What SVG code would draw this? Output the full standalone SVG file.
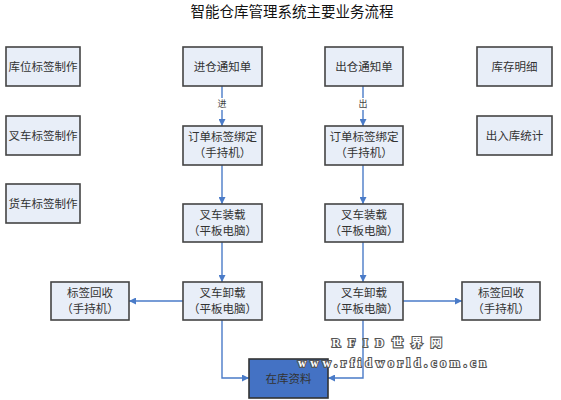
<svg xmlns="http://www.w3.org/2000/svg" width="561" height="400" viewBox="0 0 561 400">
<style>
.box rect{fill:#e8eef8;stroke:#444;stroke-width:1.6}
.dark rect{fill:#4472c4;stroke:#333;stroke-width:1.6}
text{font-family:"Noto Sans CJK SC","Noto Sans CJK JP",sans-serif;font-size:11.5px;fill:#333;text-anchor:middle}
.title{font-size:14.5px;fill:#111}
.lbl{font-size:9px;fill:#444}
.conn path{fill:none;stroke:#4a7bc8;stroke-width:1.4}
.wm{font-family:"Liberation Serif","Noto Sans CJK SC",serif;font-weight:bold;fill:#fff;stroke:#555;stroke-width:2.2;paint-order:stroke;text-anchor:start}
</style>
<defs>
<marker id="ah" viewBox="0 0 10 10" refX="10" refY="5" markerWidth="7" markerHeight="7" markerUnits="userSpaceOnUse" orient="auto">
<path d="M0,0 L10,5 L0,10 z" fill="#4a7bc8"/>
</marker>
</defs>
<rect width="561" height="400" fill="#fff"/>
<text class="title" x="292" y="17">智能仓库管理系统主要业务流程</text>

<g class="conn">
<path d="M222,86 V98"/>
<path d="M222,110 V126" marker-end="url(#ah)"/>
<path d="M363,86 V98"/>
<path d="M363,110 V126" marker-end="url(#ah)"/>
<path d="M222,165 V204" marker-end="url(#ah)"/>
<path d="M363,165 V204" marker-end="url(#ah)"/>
<path d="M222,242 V282" marker-end="url(#ah)"/>
<path d="M363,242 V282" marker-end="url(#ah)"/>
<path d="M183,301 H129" marker-end="url(#ah)"/>
<path d="M403,301 H462" marker-end="url(#ah)"/>
<path d="M222,320 V378 H249" marker-end="url(#ah)"/>
<path d="M363,320 V378 H328" marker-end="url(#ah)"/>
<text class="lbl" x="222" y="107">进</text>
<text class="lbl" x="363" y="107">出</text>
</g>

<g id="n1" class="box"><rect x="6" y="47" width="74" height="39"/><text x="43" y="71">库位标签制作</text></g>
<g id="n2" class="box"><rect x="6" y="116" width="74" height="39"/><text x="43" y="140">叉车标签制作</text></g>
<g id="n3" class="box"><rect x="6" y="184" width="74" height="39"/><text x="43" y="208">货车标签制作</text></g>
<g id="n4" class="box"><rect x="183" y="47" width="79" height="39"/><text x="222.5" y="71">进仓通知单</text></g>
<g id="n5" class="box"><rect x="325" y="47" width="78" height="39"/><text x="364" y="71">出仓通知单</text></g>
<g id="n6" class="box"><rect x="477" y="47" width="75" height="39"/><text x="514.5" y="71">库存明细</text></g>
<g id="n7" class="box"><rect x="477" y="116" width="75" height="39"/><text x="514.5" y="140">出入库统计</text></g>
<g id="n8" class="box"><rect x="183" y="126" width="79" height="39"/><text x="222.5" y="141">订单标签绑定</text><text x="222.5" y="157">（手持机）</text></g>
<g id="n9" class="box"><rect x="325" y="126" width="78" height="39"/><text x="364" y="141">订单标签绑定</text><text x="364" y="157">（手持机）</text></g>
<g id="n10" class="box"><rect x="183" y="204" width="79" height="38"/><text x="222.5" y="219">叉车装载</text><text x="222.5" y="235">（平板电脑）</text></g>
<g id="n11" class="box"><rect x="325" y="204" width="78" height="38"/><text x="364" y="219">叉车装载</text><text x="364" y="235">（平板电脑）</text></g>
<g id="n12" class="box"><rect x="183" y="282" width="79" height="38"/><text x="222.5" y="297">叉车卸载</text><text x="222.5" y="313">（平板电脑）</text></g>
<g id="n13" class="box"><rect x="325" y="282" width="78" height="38"/><text x="364" y="297">叉车卸载</text><text x="364" y="313">（平板电脑）</text></g>
<g id="n14" class="box"><rect x="51" y="282" width="78" height="38"/><text x="90" y="297">标签回收</text><text x="90" y="313">（手持机）</text></g>
<g id="n15" class="box"><rect x="462" y="282" width="78" height="38"/><text x="501" y="297">标签回收</text><text x="501" y="313">（手持机）</text></g>
<g id="n16" class="dark"><rect x="249" y="359" width="79" height="39"/><text x="288.5" y="383">在库资料</text></g>

<text class="wm" x="332" y="347" font-size="21" textLength="110" lengthAdjust="spacing">RFID世界网</text>
<text class="wm" x="298" y="367" font-size="17" textLength="188" lengthAdjust="spacing">www.rfidworld.com.cn</text>
</svg>
